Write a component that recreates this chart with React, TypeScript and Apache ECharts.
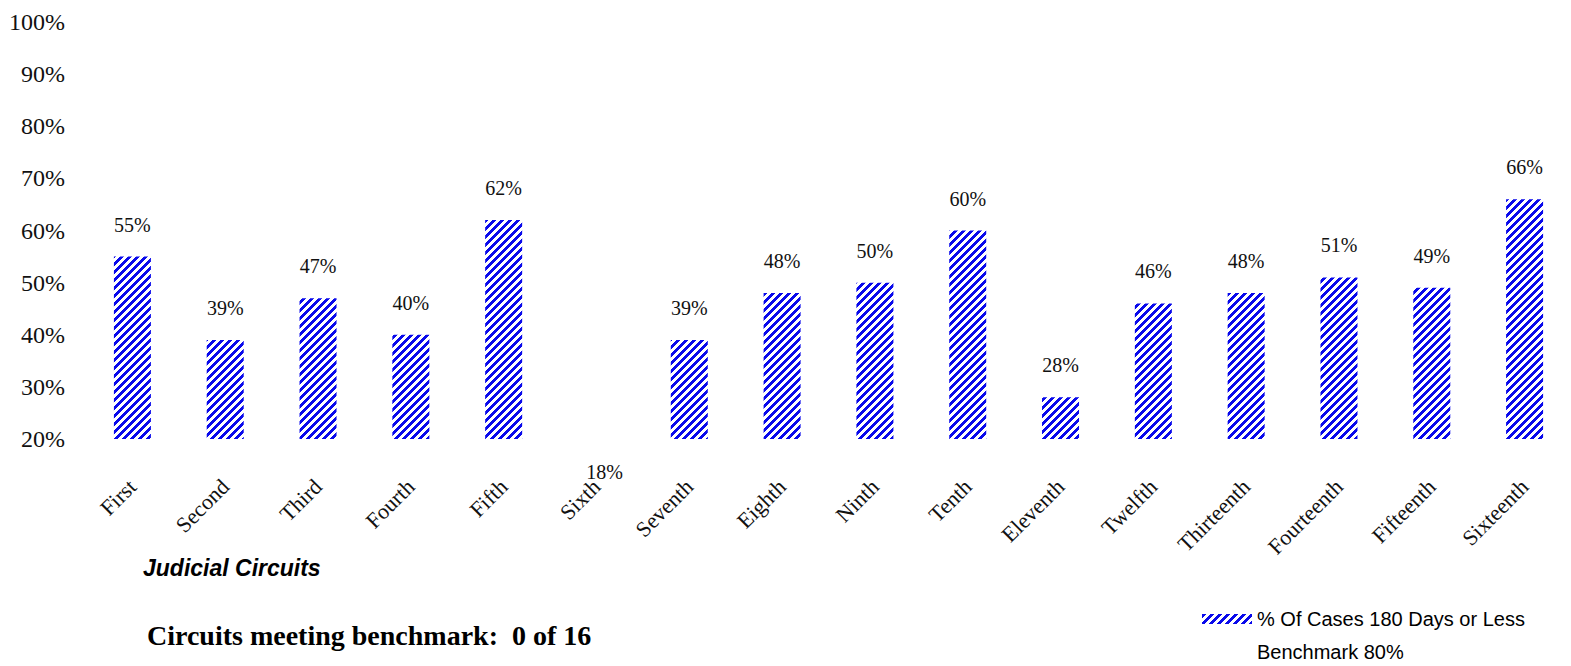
import React, { useEffect, useRef } from "react";
import * as echarts from "echarts";

const categories = ["First", "Second", "Third", "Fourth", "Fifth", "Sixth", "Seventh", "Eighth", "Ninth", "Tenth", "Eleventh", "Twelfth", "Thirteenth", "Fourteenth", "Fifteenth", "Sixteenth"];
const percentCases = [55, 39, 47, 40, 62, 18, 39, 48, 50, 60, 28, 46, 48, 51, 49, 66];
const yTicks = { min: 20, max: 100, interval: 10 };
const seriesName = "% Of Cases 180 Days or Less";
const benchmarkName = "Benchmark 80%";
const xTitle = "Judicial Circuits";
const footer = "Circuits meeting benchmark:  0 of 16";

function makeStripes(): HTMLCanvasElement {
  const size = 8;
  const c = document.createElement("canvas");
  c.width = size;
  c.height = size;
  const ctx = c.getContext("2d")!;
  const img = ctx.createImageData(size, size);
  for (let y = 0; y < size; y++) {
    for (let x = 0; x < size; x++) {
      const i = (y * size + x) * 4;
      const blue = (x + y) % size < 4;
      img.data[i] = blue ? 10 : 255;
      img.data[i + 1] = blue ? 10 : 255;
      img.data[i + 2] = blue ? 235 : 255;
      img.data[i + 3] = 255;
    }
  }
  ctx.putImageData(img, 0, 0);
  return c;
}

export default function App() {
  const ref = useRef<HTMLDivElement>(null);
  useEffect(() => {
    document.body.style.margin = "0";
    const chart = echarts.init(ref.current!, null, { renderer: "svg" });
    const pattern: any = { image: makeStripes(), repeat: "repeat" };
    const serif = "'Liberation Serif', 'Times New Roman', serif";
    const sans = "'Liberation Sans', Arial, sans-serif";
    chart.setOption({
      animation: false,
      backgroundColor: "#ffffff",
      title: [
        {
          text: xTitle,
          left: 143,
          top: 556,
          padding: 0,
          textStyle: { fontSize: 23, fontStyle: "italic", fontWeight: "bold", fontFamily: sans, color: "#000" },
        },
        {
          text: footer,
          left: 147,
          top: 621,
          padding: 0,
          textStyle: { fontSize: 28, fontWeight: "bold", fontFamily: serif, color: "#000" },
        },
      ],
      legend: {
        orient: "vertical",
        left: 1202,
        top: 608,
        padding: 0,
        itemWidth: 50,
        itemHeight: 10,
        itemGap: 11,
        textStyle: { fontSize: 20, lineHeight: 22, fontFamily: sans, color: "#000" },
        data: [
          { name: seriesName, icon: "rect" },
          { name: benchmarkName, icon: "rect", itemStyle: { opacity: 0 } },
        ],
      },
      grid: { left: 86, top: 22, width: 1506, height: 417, containLabel: false },
      xAxis: {
        type: "category",
        data: categories,
        axisLine: { show: false },
        axisTick: { show: false },
        axisLabel: { interval: 0, rotate: 45, margin: 44, fontSize: 22, fontFamily: serif, color: "#111" },
      },
      yAxis: {
        type: "value",
        min: yTicks.min,
        max: yTicks.max,
        interval: yTicks.interval,
        splitLine: { show: false },
        axisLine: { show: false },
        axisTick: { show: false },
        axisLabel: { margin: 21, fontSize: 24, fontFamily: serif, color: "#111", formatter: "{value}%" },
      },
      series: [
        {
          name: seriesName,
          type: "bar",
          data: percentCases,
          barWidth: 37,
          itemStyle: { color: pattern },
          label: {
            show: true,
            position: "top",
            distance: 22,
            fontSize: 20,
            fontFamily: serif,
            color: "#111",
            formatter: (p: any) => (p.value < yTicks.min ? "" : p.value + "%"),
          },
        },
        {
          name: "below-axis",
          type: "scatter",
          clip: false,
          symbolSize: 0,
          silent: true,
          data: percentCases.map((v) => (v < yTicks.min ? v : "-")),
          label: {
            show: true,
            position: "bottom",
            distance: 13,
            offset: [8, 0],
            fontSize: 20,
            fontFamily: serif,
            color: "#111",
            opacity: 1,
            formatter: (p: any) => p.value + "%",
          },
        },
        {
          name: benchmarkName,
          type: "line",
          data: [],
          lineStyle: { opacity: 0 },
          itemStyle: { opacity: 0 },
        },
      ],
    });
    return () => chart.dispose();
  }, []);
  return <div ref={ref} style={{ width: 1571, height: 666 }} />;
}
